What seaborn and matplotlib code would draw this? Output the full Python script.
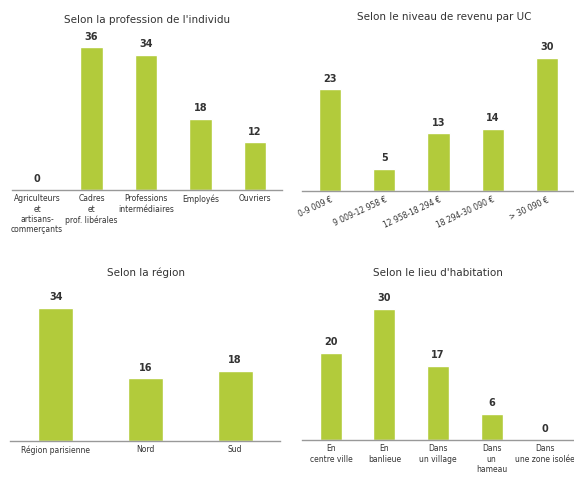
import matplotlib
matplotlib.use("Agg")
import matplotlib.pyplot as plt
import seaborn as sns

# DATA

prof_labels = ["Agriculteurs\net\nartisans-\ncommerçants", "Cadres\net\nprof. libérales",
               "Professions\nintermédiaires", "Employés", "Ouvriers"]
prof_values = [0, 36, 34, 18, 12]

revenu_labels = ["0-9 009 €", "9 009-12 958 €", "12 958-18 294 €",
                 "18 294-30 090 €", "> 30 090 €"]
revenu_values = [23, 5, 13, 14, 30]

region_labels = ["Région parisienne", "Nord", "Sud"]
region_values = [34, 16, 18]

lieu_labels = ["En\ncentre ville", "En\nbanlieue", "Dans\nun village",
               "Dans\nun\nhameau", "Dans\nune zone isolée"]
lieu_values = [20, 30, 17, 6, 0]

titles = ["Selon la profession de l'individu", "Selon le niveau de revenu par UC",
          "Selon la région", "Selon le lieu d'habitation"]

sns.set_style("white")
plt.rcParams["font.family"] = ["DejaVu Sans"]

GREEN = "#b2cb3b"
W, H = 574, 479

fig = plt.figure(figsize=(W / 100, H / 100), dpi=100)


def make_ax(x0, x1, base, height=160):
    return fig.add_axes([x0 / W, (H - base) / H, (x1 - x0) / W, height / H])


panels = [
    # labels, values, axis px, xlim, ylim top, title pos
    (prof_labels, prof_values, (12, 282, 190), (-0.46, 4.5), 40.3, (147, 20)),
    (revenu_labels, revenu_values, (302, 574, 191), (-0.52, 4.5), 36.1, (444, 17)),
    (region_labels, region_values, (10, 280, 441), (-0.51, 2.5), 40.9, (146, 273)),
    (lieu_labels, lieu_values, (302, 574, 440), (-0.54, 4.54), 36.6, (438, 273)),
]

for i, (labels, values, (x0, x1, base), xlim, ytop, (tx, ty)) in enumerate(panels):
    ax = make_ax(x0, x1, base)
    n = len(labels)
    width = 0.41 if n == 5 else 0.39
    sns.barplot(x=labels, y=values, color=GREEN, width=width, saturation=1, ax=ax)
    ax.bar_label(ax.containers[0], labels=[str(v) for v in values], padding=4,
                 fontsize=7, fontweight="bold", color="#333333")
    ax.set_xlim(*xlim)
    ax.set_ylim(0, ytop)
    ax.set_yticks([])
    ax.set_ylabel("")
    for s in ["top", "left", "right"]:
        ax.spines[s].set_visible(False)
    ax.spines["bottom"].set_color("#999999")
    ax.spines["bottom"].set_linewidth(1)
    ax.tick_params(axis="x", length=0, pad=3, labelsize=5.5, labelcolor="#333333")
    if i == 1:
        ax.set_xticks(range(n))
        ax.set_xticklabels(labels, rotation=25, ha="right", rotation_mode="anchor")
    fig.text(tx / W, 1 - ty / H, titles[i], ha="center", va="center",
             fontsize=7.5, color="#333333")

fig.savefig("out.png", dpi=100)
